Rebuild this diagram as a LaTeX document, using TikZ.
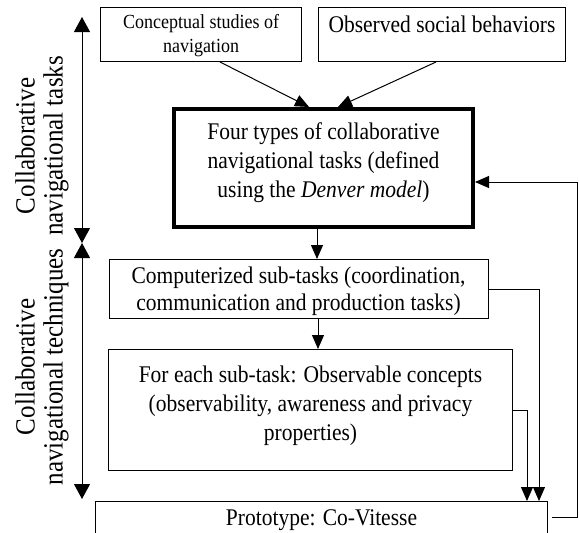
\documentclass[tikz,border=0pt]{standalone}
\usepackage{fontspec}
\setmainfont[FakeStretch=0.9]{Liberation Serif}
\usetikzlibrary{arrows.meta,positioning,calc}

\begin{document}
\begin{tikzpicture}[x=1pt, y=-1pt,
  box/.style={draw, line width=1pt, align=center, inner xsep=2pt, inner ysep=0pt,
    font=\fontsize{23.9}{29}\selectfont},
  heavybox/.style={box, line width=4pt},
  lab/.style={align=center, rotate=90, font=\fontsize{27.8}{28}\selectfont},
  arr/.style={-{Triangle[length=14pt,width=12pt]}, line width=1pt},
  dbl/.style={{Triangle[length=15pt,width=16pt]}-{Triangle[length=15pt,width=16pt]}, line width=1pt},
]
  \useasboundingbox (0,0) rectangle (579,533);
  \clip (0,0) rectangle (579,533);

  % Sources on top.
  \node[box, font=\fontsize{20}{24}\selectfont, minimum width=201pt,
    text height=44.5pt, text depth=9.5pt] (concept) at (201,34.5)
    {Conceptual studies of\\navigation};
  \node[box, minimum width=247pt, text height=24.5pt, text depth=29.5pt]
    (observed) at (442,34.5) {Observed social behaviors};

  % The four task types.
  \node[heavybox, minimum width=299pt, text height=88pt, text depth=30pt]
    (fourtypes) at (323.5,168)
    {Four types of collaborative\\navigational tasks (defined\\using the \textit{Denver model})};

  % Techniques.
  \node[box, font=\fontsize{23.9}{27}\selectfont, minimum width=379pt,
    text height=50.5pt, text depth=8.5pt] (computer) at (298.5,289)
    {Computerized sub-tasks (coordination,\\communication and production tasks)};
  \node[box, minimum width=404pt, text height=90.5pt, text depth=30.5pt]
    (foreach) at (310.5,410)
    {For each sub-task: Observable concepts\\(observability, awareness and privacy\\properties)};
  \node[box, minimum width=452pt, text height=23.5pt, text depth=20pt]
    (proto) at (321.5,523.25) {Prototype: Co-Vitesse};

  % Flow between the boxes.
  \draw[arr] ([xshift=19pt]concept.south) -- ([xshift=-14.5pt]fourtypes.north);
  \draw[arr] ([xshift=-6pt]observed.south) -- ([xshift=14.5pt]fourtypes.north);
  \draw[arr] ([xshift=-6.5pt]fourtypes.south) -- ([xshift=-6.5pt]fourtypes.south |- computer.north);
  \draw[arr] ([xshift=19.5pt]computer.south) -- ([xshift=19.5pt]computer.south |- foreach.north);
  \draw[arr] (computer.east) -| ([xshift=217.5pt]proto.north);
  \draw[arr] (foreach.east) -| ([xshift=205.5pt]proto.north);
  \coordinate (loop) at (577,182);
  \draw[arr] ([shift={(4pt,6pt)}]proto.east) -| (loop) -- ([yshift=-14pt]fourtypes.east);

  % Side scales.
  \coordinate (tasktop) at (82,17);
  \coordinate (split) at (82,243);
  \coordinate (techbot) at (82,499);
  \draw[dbl] (tasktop) -- (split);
  \draw[dbl] (split) -- (techbot);
  \node[lab] (tasklab) at (42,146) {Collaborative\\navigational tasks};
  \node[lab] (techlab) at (42,367) {Collaborative\\navigational techniques};
\end{tikzpicture}
\end{document}
